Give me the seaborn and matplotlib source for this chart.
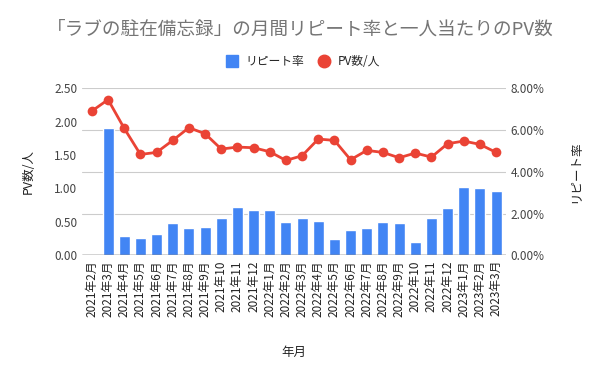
import numpy as np
import pandas as pd
import matplotlib
matplotlib.use("Agg")
import matplotlib.pyplot as plt
from matplotlib.lines import Line2D
from matplotlib.ticker import FuncFormatter
import seaborn as sns

sns.set_style("white")
plt.rcParams['font.family'] = ['Noto Sans CJK JP', 'DejaVu Sans']

months = ["2021年2月", "2021年3月", "2021年4月", "2021年5月", "2021年6月", "2021年7月",
          "2021年8月", "2021年9月", "2021年10", "2021年11", "2021年12", "2022年1月",
          "2022年2月", "2022年3月", "2022年4月", "2022年5月", "2022年6月", "2022年7月",
          "2022年8月", "2022年9月", "2022年10", "2022年11", "2022年12", "2023年1月",
          "2023年2月", "2023年3月"]
pv_per_user = [2.16, 2.33, 1.90, 1.51, 1.54, 1.72, 1.91, 1.82, 1.59, 1.62, 1.61, 1.55,
               1.42, 1.49, 1.74, 1.72, 1.43, 1.57, 1.54, 1.46, 1.53, 1.47, 1.67, 1.71,
               1.66, 1.54]
repeat_rate = [0.0, 6.12, 0.92, 0.82, 1.01, 1.56, 1.32, 1.37, 1.80, 2.31, 2.17, 2.17,
               1.59, 1.80, 1.64, 0.77, 1.21, 1.32, 1.59, 1.56, 0.63, 1.80, 2.27, 3.28,
               3.23, 3.10]

df = pd.DataFrame({"month": months, "pv": pv_per_user, "rate": repeat_rate})
df["x"] = range(len(df))

blue = "#4285F4"
red = "#EA4335"

fig, ax = plt.subplots(figsize=(6, 3.71), dpi=100)
ax2 = ax.twinx()

sns.barplot(data=df, x="x", y="rate", color=blue, width=0.68, ax=ax2,
            saturation=1, native_scale=True)
sns.lineplot(data=df, x="x", y="pv", color=red, linewidth=2, marker="o",
             markersize=7, markeredgewidth=0, ax=ax)

ax.set_zorder(ax2.get_zorder() + 1)
ax.patch.set_visible(False)

ax.set_ylim(0, 2.5)
ax2.set_ylim(0, 8)
ax.set_yticks(np.arange(0, 2.51, 0.5))
ax2.set_yticks(np.arange(0, 8.1, 2))
ax.yaxis.set_major_formatter(FuncFormatter(lambda v, p: f"{v:.2f}"))
ax2.yaxis.set_major_formatter(FuncFormatter(lambda v, p: f"{v:.2f}%"))

ax2.yaxis.grid(True, color="#cccccc", linewidth=0.8)
ax.set_xticks(df["x"])
ax.set_xticklabels(months, rotation=90, fontsize=8.5, color="#222222")
ax.set_xlim(-0.6, len(df) - 0.4)

for a in (ax, ax2):
    for s in a.spines.values():
        s.set_visible(False)
    a.tick_params(length=0, labelsize=8.5, labelcolor="#444444")
ax.tick_params(axis="x", labelcolor="#222222")
ax.axhline(0, color="#333333", linewidth=1, zorder=0)

ax.set_ylabel("PV数/人", fontsize=9, color="#222222", labelpad=14)
ax2.set_ylabel("リピート率", fontsize=9, color="#222222", labelpad=18)
ax.set_xlabel("年月", fontsize=9, color="#222222", labelpad=21)
ax2.set_xlabel("")

fig.suptitle("「ラブの駐在備忘録」の月間リピート率と一人当たりのPV数", fontsize=13.4,
             color="#757575", y=0.945)
handles = [Line2D([], [], marker="s", linestyle="", color=blue, markersize=8),
           Line2D([], [], marker="o", linestyle="", color=red, markersize=9)]
fig.legend(handles, ["リピート率", "PV数/人"], loc="center", bbox_to_anchor=(0.5, 0.833),
           ncol=2, frameon=False, fontsize=8.5, handletextpad=0.2, columnspacing=0.6)

fig.subplots_adjust(left=0.137, right=0.843, top=0.762, bottom=0.312)
fig.savefig("out.png", dpi=100)
